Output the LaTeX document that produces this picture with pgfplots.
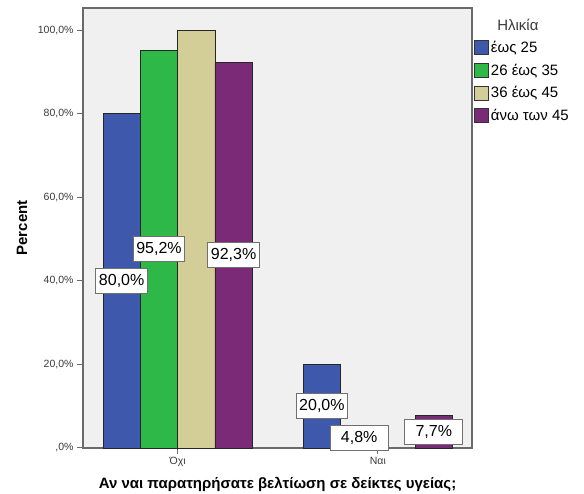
\documentclass[border=0pt]{standalone}
\usepackage{pgfplots}
\pgfplotsset{compat=1.18}
\usepackage{pgfplotstable}
\usepackage{fontspec}
\setmainfont{Liberation Sans}

\definecolor{cBlue}{HTML}{3E58AC}
\definecolor{cGreen}{HTML}{2EB848}
\definecolor{cTan}{HTML}{D3CE97}
\definecolor{cPurple}{HTML}{7B2A77}
\definecolor{bgGray}{HTML}{F0F0F0}
\definecolor{frameGray}{HTML}{6A6A6A}
\definecolor{boxGray}{HTML}{707070}
\definecolor{tickText}{HTML}{3A3A3A}

% percentages per age group: 0 = "Όχι", 1 = "Ναι"
\pgfplotstableread{
x v
0 80.0
1 20.0
}\tblA
\pgfplotstableread{
x v
0 95.2
1 4.8
}\tblB
\pgfplotstableread{
x v
0 100.0
}\tblC
\pgfplotstableread{
x v
0 92.3
1 7.7
}\tblD

\pgfplotsset{
  chartbase/.style={
    at={(0pt,0pt)}, anchor=south west,
    scale only axis, width=389pt, height=440pt,
    xmin=-0.4725, xmax=1.47, ymin=0, ymax=105.3,
    ybar=0pt, bar width=37.3pt,
  },
  valuebox/.style={
    /pgf/number format/assume math mode=true,
    nodes near coords={\pgfmathprintnumber[fixed,fixed zerofill,precision=1,use comma]{\pgfplotspointmeta}\%},
    every node near coord/.append style={
      anchor=center, fill=white, draw=boxGray, line width=1pt,
      inner xsep=3pt, inner ysep=5pt, text height=11.5pt, text depth=3pt,
      font=\fontsize{16}{19}\selectfont, text=black},
    % single-digit values get a wider box
    coordinate style/.condition={y<5}{minimum width=58pt},
  },
}

\begin{document}
\begin{tikzpicture}
\useasboundingbox (-83pt,-46pt) rectangle (501pt,448pt);

% bars
\begin{axis}[
  chartbase,
  clip=false,
  axis background/.style={fill=bgGray},
  axis line style={draw=frameGray, line width=1.3pt},
  xtick={0,1}, xticklabels={Όχι, Ναι},
  ytick={0,20,40,60,80,100},
  yticklabels={{,0\%},{20,0\%},{40,0\%},{60,0\%},{80,0\%},{100,0\%}},
  xtick pos=lower, ytick pos=left,
  tick align=outside, major tick length=6pt,
  tick style={draw=frameGray, line width=1pt},
  ticklabel style={font=\fontsize{10.5}{12}\selectfont, text=tickText},
  xlabel={Αν ναι παρατηρήσατε βελτίωση σε δείκτες υγείας;},
  ylabel={Percent},
  label style={font=\fontsize{15}{17}\selectfont\bfseries},
  xlabel style={at={(axis description cs:0.5,-0.082)}, anchor=center},
  ylabel style={at={(axis description cs:-0.157,0.5)}, anchor=center},
  legend image code/.code={\draw[#1, draw=black!80, line width=0.8pt] (0pt,-7pt) rectangle (14pt,7pt);},
  legend style={at={(rel axis cs:1.005,0.93)}, anchor=north west,
    draw=none, fill=none, inner sep=0pt,
    font=\fontsize{15}{17}\selectfont, row sep=6pt,
    /tikz/every even column/.append style={column sep=3pt}},
  legend cell align=left,
  every axis plot/.append style={draw=black!85, line width=0.8pt},
]
\addplot[fill=cBlue] table[x=x, y=v] {\tblA};
\addplot[fill=cGreen] table[x=x, y=v] {\tblB};
\addplot[fill=cTan] table[x=x, y=v] {\tblC};
\addplot[fill=cPurple] table[x=x, y=v] {\tblD};
\legend{έως 25, 26 έως 35, 36 έως 45, άνω των 45}
\node[font=\fontsize{15}{17}\selectfont, text=tickText, anchor=center]
  at (rel axis cs:1.118,0.961) {Ηλικία};
\end{axis}

% value boxes at mid-height of each bar
\begin{axis}[chartbase, hide axis]
\addplot[draw=none, fill=none, point meta=explicit, valuebox]
  table[x=x, y expr=\thisrow{v}/2, meta=v] {\tblA};
\addplot[draw=none, fill=none, point meta=explicit, valuebox]
  table[x=x, y expr=\thisrow{v}/2, meta=v] {\tblB};
\addplot[draw=none, fill=none]
  table[x=x, y expr=\thisrow{v}/2] {\tblC};
\addplot[draw=none, fill=none, point meta=explicit, valuebox]
  table[x=x, y expr=\thisrow{v}/2, meta=v] {\tblD};
\end{axis}
\end{tikzpicture}
\end{document}
